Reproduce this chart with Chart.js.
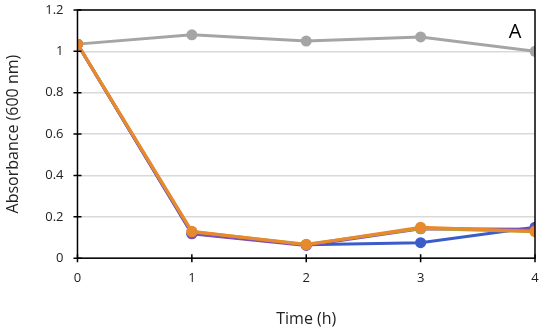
<!DOCTYPE html>
<html>
<head>
<meta charset="utf-8">
<script src="https://cdn.jsdelivr.net/npm/chart.js@4"></script>
<style>
  html, body { margin: 0; padding: 0; background: #fff; }
  #wrap { width: 550px; height: 333px; }
</style>
</head>
<body>
<div id="wrap"><canvas id="canvas1" width="550" height="333"></canvas></div>
<script>
var horas = [0, 1, 2, 3, 4];
var gris = [1.035, 1.08, 1.05, 1.07, 1.0];
var azul = [1.035, 0.12, 0.065, 0.075, 0.15];
var morado = [1.035, 0.118, 0.062, 0.142, 0.14];
var naranja = [1.035, 0.13, 0.065, 0.15, 0.13];
var oliva = [1.035, 0.128, 0.068, 0.143, 0.128];
var ticksY = [0, 0.2, 0.4, 0.6, 0.8, 1, 1.2];

function puntos(vals){
  return horas.map(function(h, i){ return {x: h, y: vals[i]}; });
}

function serie(nombre, vals, color, orden){
  return {
    label: nombre,
    data: puntos(vals),
    borderColor: color,
    backgroundColor: color,
    borderWidth: 3,
    pointRadius: 5.5,
    pointBorderWidth: 0,
    tension: 0,
    order: orden
  };
}

// marco + marcas de ejes + la letra A
var marco = {
  id: 'marco',
  afterDraw: function(chart){
    var c = chart.ctx, a = chart.chartArea;
    c.save();
    c.strokeStyle = '#000';
    c.lineWidth = 1.5;
    c.strokeRect(a.left, a.top, a.right - a.left, a.bottom - a.top);
    var sx = chart.scales.x, sy = chart.scales.y;
    c.beginPath();
    horas.forEach(function(h){
      var px = sx.getPixelForValue(h);
      c.moveTo(px, a.bottom - 4); c.lineTo(px, a.bottom + 4);
    });
    ticksY.forEach(function(v){
      var py = sy.getPixelForValue(v);
      c.moveTo(a.left - 4, py); c.lineTo(a.left + 4, py);
    });
    c.stroke();
    c.fillStyle = '#000';
    c.font = '20px "Open Sans", sans-serif';
    c.textAlign = 'center';
    c.textBaseline = 'middle';
    c.fillText('A', a.right - 20, a.top + 22);
    c.restore();
  }
};

function sinRelleno(s){
  s.paddingTop = 0; s.paddingBottom = 0; s.paddingLeft = 0; s.paddingRight = 0;
}

var ctx = document.getElementById('canvas1').getContext('2d');
var grafica = new Chart(ctx, {
  type: 'line',
  data: {
    datasets: [
      serie('gris', gris, '#A5A5A5', 5),
      serie('azul', azul, '#3B5CC9', 4),
      serie('morado', morado, '#7E4FB8', 3),
      serie('naranja', naranja, '#E8892E', 1),
      serie('oliva', oliva, '#BFA036', 2)
    ]
  },
  options: {
    responsive: false,
    animation: false,
    layout: { autoPadding: false, padding: { left: 4, right: 15, top: 10, bottom: 4 } },
    plugins: { legend: { display: false }, tooltip: { enabled: false } },
    scales: {
      x: {
        type: 'linear',
        min: 0, max: 4,
        afterFit: sinRelleno,
        grid: { display: false },
        border: { display: false },
        ticks: { stepSize: 1, color: '#222', padding: 4, font: { family: '"Open Sans", sans-serif', size: 13 } },
        title: { display: true, text: 'Time (h)', color: '#222', padding: { top: 20, bottom: 0 }, font: { family: '"Open Sans", sans-serif', size: 16 } }
      },
      y: {
        min: 0, max: 1.2,
        afterFit: sinRelleno,
        grid: { color: '#d9d9d9', lineWidth: 1.5, drawTicks: false },
        border: { display: false },
        afterBuildTicks: function(s){ s.ticks = ticksY.map(function(v){ return {value: v}; }); },
        ticks: {
          color: '#222', padding: 14,
          font: { family: '"Open Sans", sans-serif', size: 13 },
          callback: function(v){ return String(Math.round(v * 10) / 10); }
        },
        title: { display: true, text: 'Absorbance (600 nm)', color: '#222', padding: { top: 0, bottom: 8 }, font: { family: '"Open Sans", sans-serif', size: 16 } }
      }
    }
  },
  plugins: [marco]
});
</script>
</body>
</html>
